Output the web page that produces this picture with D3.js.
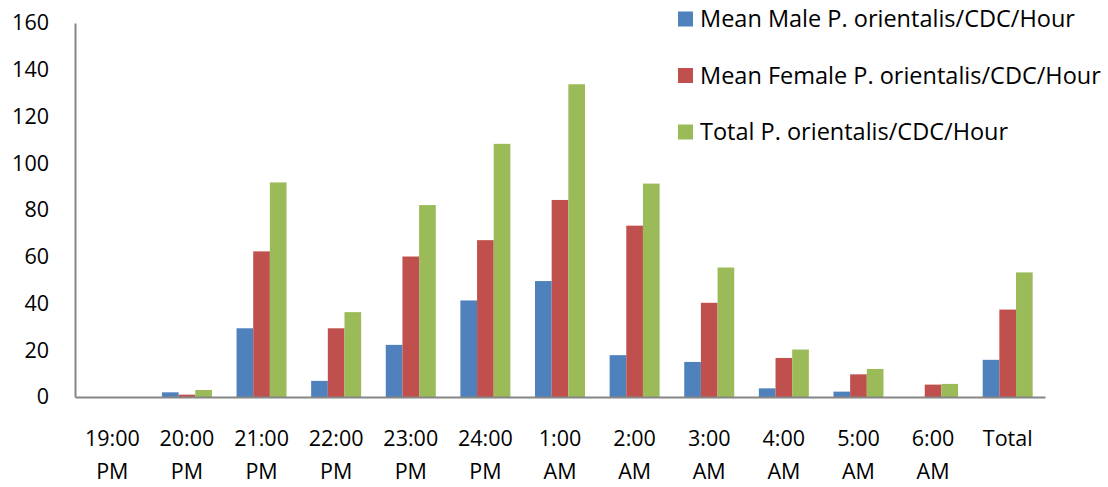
<!DOCTYPE html>
<html>
<head>
<meta charset="utf-8">
<script src="https://cdn.jsdelivr.net/npm/d3@7"></script>
<style>
  html, body { margin: 0; padding: 0; background: #fff; }
  svg { display: block; }
  text { font-family: "Open Sans", Lato, sans-serif; fill: #000; }
</style>
</head>
<body>
<svg id="chart" width="1108" height="487"></svg>
<script>
// Hour of trapping (two-line labels)
const categories = ["19:00|PM", "20:00|PM", "21:00|PM", "22:00|PM", "23:00|PM", "24:00|PM",
  "1:00|AM", "2:00|AM", "3:00|AM", "4:00|AM", "5:00|AM", "6:00|AM", "Total"];

const seriesNames = [
  "Mean Male P. orientalis/CDC/Hour",
  "Mean Female P. orientalis/CDC/Hour",
  "Total P. orientalis/CDC/Hour"
];

const maleValues   = [0, 2.0, 29.4, 6.9, 22.3, 41.3, 49.6, 17.9, 15.0, 3.7, 2.3, 0, 15.9];
const femaleValues = [0, 1.0, 62.3, 29.4, 60.1, 67.1, 84.3, 73.3, 40.3, 16.7, 9.7, 5.3, 37.4];
const totalValues  = [0, 3.0, 91.8, 36.3, 82.1, 108.3, 133.8, 91.3, 55.4, 20.3, 12.0, 5.6, 53.3];

const yTicks = [0, 20, 40, 60, 80, 100, 120, 140, 160];
const colors = ["#4F81BD", "#C0504D", "#9BBB59"];

const series = [maleValues, femaleValues, totalValues];

const svg = d3.select("#chart");
const margin = { left: 75, right: 63, top: 23, bottom: 90 };
const W = 1108, H = 487;
const AXIS_FONT = 21.5;
const LEGEND_FONT = 23.5;

const x = d3.scaleBand()
  .domain(categories)
  .range([margin.left, W - margin.right])
  .paddingInner(0.33)
  .paddingOuter(0.165);

const xOuter = d3.scaleBand()
  .domain(categories)
  .range([margin.left, W - margin.right]);

const xInner = d3.scaleBand()
  .domain(d3.range(series.length))
  .range([0, x.bandwidth()]);

const y = d3.scaleLinear()
  .domain([0, 160])
  .range([H - margin.bottom, margin.top]);

// Bars
series.forEach((vals, si) => {
  svg.append("g")
    .selectAll("rect")
    .data(vals)
    .join("rect")
    .attr("x", (d, i) => x(categories[i]) + xInner(si))
    .attr("width", xInner.bandwidth())
    .attr("y", d => y(d))
    .attr("height", d => y(0) - y(d))
    .attr("fill", colors[si]);
});

// Y axis
const yAxis = d3.axisLeft(y).tickValues(yTicks).tickSize(0).tickPadding(26);
const gy = svg.append("g")
  .attr("transform", `translate(${margin.left},0)`)
  .call(yAxis);
gy.select(".domain").attr("stroke", "#868686").attr("stroke-width", 2);
gy.selectAll(".tick text")
  .attr("font-size", AXIS_FONT)
  .style("font-family", "'Open Sans', Lato, sans-serif")
  .attr("fill", "#000");

// X axis
const xAxis = d3.axisBottom(xOuter).tickSize(0).tickFormat("");
const gx = svg.append("g")
  .attr("transform", `translate(0,${y(0)})`)
  .call(xAxis);
gx.select(".domain").attr("stroke", "#868686").attr("stroke-width", 2);

// Two-line category labels
gx.selectAll(".tick").each(function(d) {
  const parts = d.split("|");
  const t = d3.select(this).append("text")
    .attr("text-anchor", "middle")
    .attr("font-size", AXIS_FONT)
    .attr("fill", "#000");
  parts.forEach((p, k) => {
    t.append("tspan")
      .attr("x", 0)
      .attr("y", 49 + k * 33)
      .text(p);
  });
});

// Legend
const legend = svg.append("g").attr("transform", "translate(678,0)");
seriesNames.forEach((name, i) => {
  const cy = 19 + i * 56.5;
  legend.append("rect")
    .attr("x", 0).attr("y", cy - 7.5)
    .attr("width", 15).attr("height", 15)
    .attr("fill", colors[i]);
  legend.append("text")
    .attr("x", 22).attr("y", cy + 8)
    .attr("font-size", LEGEND_FONT)
    .text(name);
});
</script>
</body>
</html>
